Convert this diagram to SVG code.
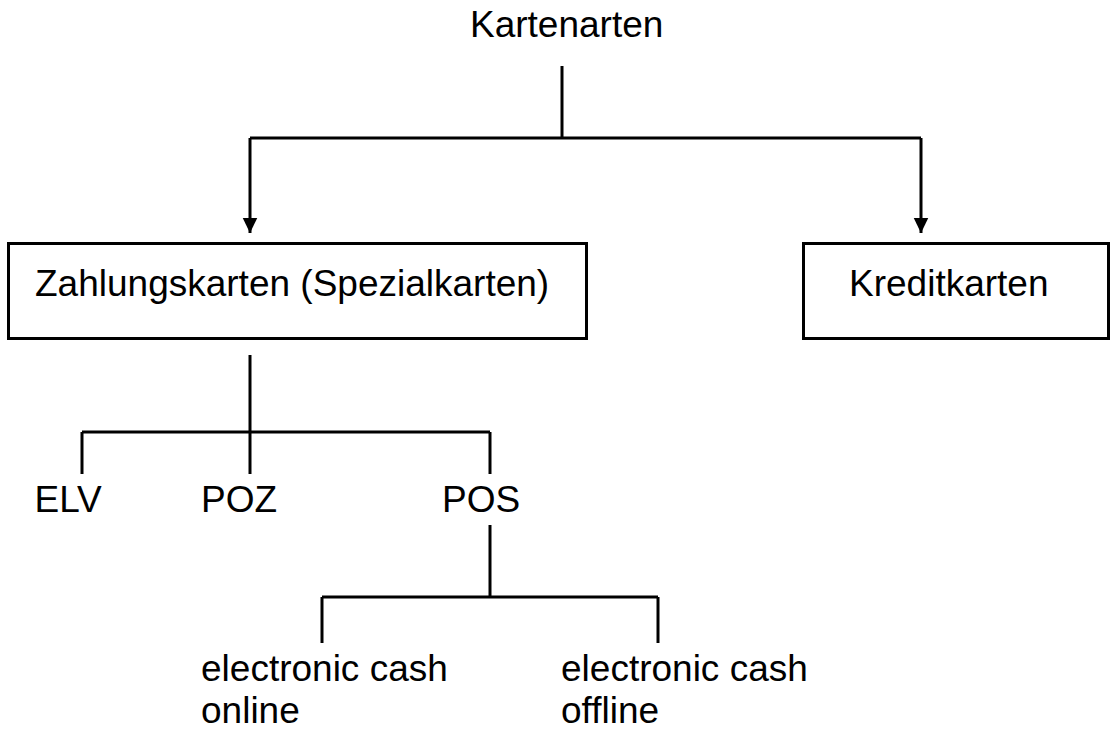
<svg xmlns="http://www.w3.org/2000/svg" width="1110" height="731" viewBox="0 0 1110 731">
<style>
text{font-family:"Liberation Sans",Arial,sans-serif;font-size:37px;fill:#000}
.ln{stroke:#000;stroke-width:3;fill:none}
.box{stroke:#000;stroke-width:3;fill:#fff}
</style>
<defs>
<marker id="ah" markerWidth="16" markerHeight="16" viewBox="0 0 16 16" refX="8" refY="15.5" orient="0" markerUnits="userSpaceOnUse">
<path d="M0.5,0 L15.5,0 L8,15.5 Z" fill="#000"/>
</marker>
</defs>
<rect width="1110" height="731" fill="#fff"/>
<g id="connectors">
<path class="ln" d="M562,66 V138"/>
<path class="ln" d="M250,138 H921"/>
<path class="ln" d="M250,138 V233" marker-end="url(#ah)"/>
<path class="ln" d="M921,138 V233" marker-end="url(#ah)"/>
<path class="ln" d="M250,355 V474"/>
<path class="ln" d="M82,432 H490"/>
<path class="ln" d="M82,432 V474"/>
<path class="ln" d="M490,432 V474"/>
<path class="ln" d="M490,525 V597"/>
<path class="ln" d="M322,597 H658"/>
<path class="ln" d="M322,597 V643"/>
<path class="ln" d="M658,597 V643"/>
</g>
<g id="kartenarten"><text x="470" y="37">Kartenarten</text></g>
<g id="zahlungskarten">
<rect class="box" x="8.5" y="243.5" width="578" height="95"/>
<text x="35" y="296">Zahlungskarten (Spezialkarten)</text>
</g>
<g id="kreditkarten">
<rect class="box" x="803.5" y="243.5" width="305" height="95"/>
<text x="849" y="296">Kreditkarten</text>
</g>
<g id="elv"><text x="34.5" y="512">ELV</text></g>
<g id="poz"><text x="201" y="512">POZ</text></g>
<g id="pos"><text x="442" y="512">POS</text></g>
<g id="ec-online"><text x="201" y="681">electronic cash</text><text x="201" y="723">online</text></g>
<g id="ec-offline"><text x="561" y="681">electronic cash</text><text x="561" y="723">offline</text></g>
</svg>
